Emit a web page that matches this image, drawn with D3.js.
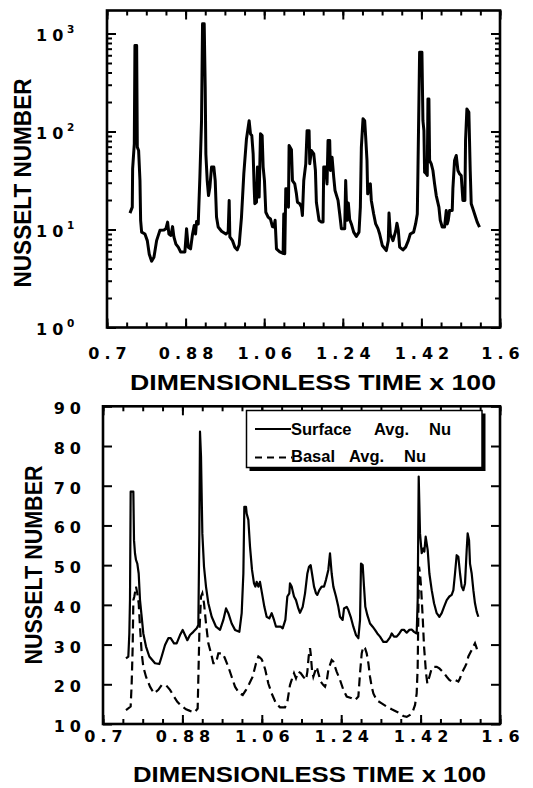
<!DOCTYPE html>
<html><head><meta charset="utf-8">
<script src="https://cdn.jsdelivr.net/npm/d3@7"></script>
<style>body{margin:0;background:#fff} svg{display:block}</style>
</head><body>
<svg id="chart" width="533" height="788"></svg>
<script>
// ---------------- data ----------------
const xTickValues = [0.7, 0.88, 1.06, 1.24, 1.42, 1.6];
const xTickLabels = ["0.7", "0.88", "1.06", "1.24", "1.42", "1.6"];
const logTickValues = [1, 10, 100, 1000];
const logTickExponents = ["0", "1", "2", "3"];
const linTickValues = [10, 20, 30, 40, 50, 60, 70, 80, 90];
const seriesNames = ["Surface", "Avg.", "Nu", "Basal"];
const xTitle = "DIMENSIONLESS TIME x 100";
const yTitle = "NUSSELT NUMBER";

// top panel: Nusselt number (log scale) vs time
const topNusselt = [
[0.7526,14.7],[0.7579,16.9],[0.7587,41.6],[0.7625,74.8],[0.7640,754],[0.7679,754],[0.7694,69.2],[0.7724,64],
[0.7755,31.6],[0.7770,12.4],[0.7793,9.4],[0.7869,9.0],[0.7923,7.7],[0.7968,5.6],[0.8022,4.75],[0.8075,5.2],
[0.8136,7.7],[0.8212,9.8],[0.8304,9.9],[0.8349,10.2],[0.8388,11.9],[0.8418,9.0],[0.8464,8.7],[0.8502,10.7],
[0.8532,8.4],[0.8578,7.1],[0.8632,6.6],[0.8685,5.9],[0.8784,5.9],[0.8822,10.2],[0.8860,6.6],[0.8914,6.35],
[0.8959,9.0],[0.8997,11.0],[0.9028,9.0],[0.9051,12.1],[0.9089,11.4],[0.9127,34.2],[0.9165,129],[0.9188,1256],
[0.9226,1256],[0.9249,283],[0.9264,59],[0.9295,31.6],[0.9325,22.2],[0.9356,27],[0.9394,43.3],[0.9447,43.3],
[0.9478,31.6],[0.9508,13.4],[0.9546,10.6],[0.9623,9.6],[0.9722,9.0],[0.9775,9.4],[0.9798,19.8],[0.9813,8.4],
[0.9874,7.7],[0.9928,6.6],[0.9981,6.2],[1.0027,7.0],[1.0080,13.4],[1.0133,37],[1.0194,84],[1.0255,129],
[1.0286,94.7],[1.0316,91],[1.0347,59],[1.0370,27],[1.0385,18.3],[1.0423,19],[1.0446,43.3],[1.0469,27],
[1.0484,21.4],[1.0515,94.7],[1.0553,91],[1.0576,43.3],[1.0606,31.6],[1.0637,15],[1.0690,13.4],[1.0743,12.8],
[1.0789,10.7],[1.0820,10.6],[1.0850,12.4],[1.0881,6.35],[1.0957,5.9],[1.1033,5.7],[1.1048,14.4],[1.1071,5.65],
[1.1094,26],[1.1132,26],[1.1155,16.9],[1.1170,72],[1.1224,65],[1.1247,31.6],[1.1300,29.2],[1.1338,23.1],
[1.1361,19],[1.1414,18.3],[1.1452,16.9],[1.1475,13.9],[1.1506,31.6],[1.1552,46.8],[1.1582,102],[1.1628,102],
[1.1643,46.8],[1.1681,64],[1.1735,59],[1.1773,40],[1.1795,19],[1.1856,12.4],[1.1910,11.9],[1.1948,11.9],
[1.1963,43.3],[1.2009,43.3],[1.2039,29.2],[1.2062,81],[1.2100,81],[1.2116,40],[1.2154,54.7],[1.2192,34.2],
[1.2222,25],[1.2291,19.8],[1.2329,14.4],[1.2367,10.2],[1.2444,10.2],[1.2466,31.6],[1.2497,12.4],[1.2527,18.6],
[1.2558,12.6],[1.2596,11.4],[1.2649,9.4],[1.2710,8.5],[1.2771,9.4],[1.2802,16.9],[1.2825,69],[1.2863,135],
[1.2901,129],[1.2924,87.5],[1.2954,50.6],[1.2970,23.1],[1.3000,27],[1.3031,29.2],[1.3053,19.8],[1.3107,14.4],
[1.3153,11.4],[1.3206,10.2],[1.3244,9.0],[1.3305,6.87],[1.3397,6.1],[1.3442,7.7],[1.3458,14.7],[1.3488,9.0],
[1.3549,7.7],[1.3610,9.6],[1.3640,11.6],[1.3671,9.8],[1.3702,6.6],[1.3778,6.2],[1.3839,6.6],[1.3900,7.7],
[1.3945,9.0],[1.4022,9.4],[1.4067,11.4],[1.4106,14.4],[1.4121,40],[1.4159,645],[1.4212,645],[1.4235,129],
[1.4258,102],[1.4273,38.5],[1.4311,37],[1.4334,35.6],[1.4350,215],[1.4372,215],[1.4388,50.6],[1.4426,46.8],
[1.4464,40],[1.4502,29.2],[1.4540,22.2],[1.4601,16.9],[1.4632,12.4],[1.4677,10.6],[1.4731,10.6],[1.4769,15.6],
[1.4792,11.4],[1.4815,12.4],[1.4845,15.6],[1.4906,15.6],[1.4921,26],[1.4959,50.6],[1.4998,56.9],[1.5036,40],
[1.5074,37],[1.5112,35.6],[1.5150,19.8],[1.5196,19.8],[1.5211,81],[1.5242,170],[1.5287,157],[1.5318,40],
[1.5341,18.3],[1.5379,16.3],[1.5440,13.4],[1.5478,11.9],[1.5531,10.6]
];

// bottom panel: surface-averaged Nusselt number
const surfaceNu = [
[0.7521,26.5],[0.7574,26.95],[0.7597,32.8],[0.7612,41.2],[0.7627,68.5],[0.7688,68.5],[0.7703,56.3],[0.7725,53.0],
[0.7748,51.3],[0.7778,50.4],[0.7809,47.9],[0.7839,41.2],[0.7877,37.0],[0.7914,32.8],[0.7975,29.5],[0.8050,27.0],
[0.8179,25.3],[0.8277,25.1],[0.8330,27.0],[0.8406,29.9],[0.8481,31.6],[0.8534,31.6],[0.8610,30.3],[0.8670,30.3],
[0.8746,32.4],[0.8806,33.7],[0.8859,32.4],[0.8912,31.1],[0.8972,32.4],[0.9048,33.2],[0.9124,34.1],[0.9161,34.9],
[0.9184,58.0],[0.9199,83.6],[0.9222,77.3],[0.9252,58.0],[0.9290,49.6],[0.9335,44.6],[0.9388,40.4],[0.9464,37.0],
[0.9562,34.5],[0.9653,33.7],[0.9728,36.2],[0.9789,39.1],[0.9841,37.9],[0.9917,35.3],[0.9993,33.7],[1.0091,33.2],
[1.0144,37.9],[1.0182,47.9],[1.0204,64.7],[1.0242,64.7],[1.0257,63.0],[1.0295,61.4],[1.0333,54.6],[1.0378,48.8],
[1.0423,45.4],[1.0454,44.6],[1.0484,45.8],[1.0522,44.6],[1.0559,45.8],[1.0605,42.9],[1.0658,39.5],[1.0710,37.0],
[1.0771,36.6],[1.0824,37.9],[1.0877,36.2],[1.0922,34.5],[1.0975,34.5],[1.1028,34.5],[1.1073,34.1],[1.1134,36.2],
[1.1179,42.1],[1.1224,42.9],[1.1239,45.4],[1.1277,44.6],[1.1330,42.1],[1.1375,41.2],[1.1428,39.1],[1.1466,38.0],
[1.1527,39.5],[1.1580,42.9],[1.1633,47.9],[1.1670,49.6],[1.1708,50.0],[1.1738,47.9],[1.1784,44.6],[1.1829,42.9],
[1.1859,42.5],[1.1904,43.7],[1.1957,44.6],[1.2010,44.6],[1.2055,46.3],[1.2108,48.8],[1.2146,53.0],[1.2184,47.9],
[1.2222,44.6],[1.2282,42.1],[1.2335,39.5],[1.2373,37.0],[1.2433,36.2],[1.2464,39.1],[1.2524,39.5],[1.2562,38.7],
[1.2615,37.0],[1.2675,34.5],[1.2736,32.4],[1.2789,31.6],[1.2827,36.2],[1.2849,50.4],[1.2887,50.0],[1.2917,44.6],
[1.2947,39.5],[1.2993,37.4],[1.3053,35.3],[1.3113,34.5],[1.3166,33.7],[1.3219,32.8],[1.3280,32.0],[1.3355,30.7],
[1.3431,30.7],[1.3507,31.8],[1.3545,32.8],[1.3597,32.0],[1.3658,32.0],[1.3718,32.8],[1.3771,33.7],[1.3824,33.7],
[1.3885,33.0],[1.3945,33.7],[1.3998,33.8],[1.4051,33.2],[1.4111,32.8],[1.4134,41.2],[1.4157,72.3],[1.4187,58.0],
[1.4225,53.0],[1.4262,54.2],[1.4285,53.4],[1.4315,57.2],[1.4338,55.5],[1.4361,53.8],[1.4399,47.9],[1.4452,43.7],
[1.4505,40.4],[1.4565,37.9],[1.4625,37.0],[1.4678,37.9],[1.4731,39.5],[1.4792,41.2],[1.4852,42.1],[1.4905,42.5],
[1.4943,43.7],[1.4980,47.9],[1.5018,52.5],[1.5056,52.1],[1.5094,47.9],[1.5131,44.6],[1.5169,43.7],[1.5207,45.4],
[1.5245,53.8],[1.5267,58.0],[1.5298,56.3],[1.5320,50.4],[1.5358,47.9],[1.5396,43.7],[1.5433,40.4],[1.5471,38.3],
[1.5509,37.0]
];

// bottom panel: basal-averaged Nusselt number
const basalNu = [
[0.7521,13.5],[0.7627,14.4],[0.7650,20.2],[0.7673,29.5],[0.7688,41.2],[0.7710,42.1],[0.7748,44.6],[0.7778,42.9],
[0.7809,40.4],[0.7839,34.5],[0.7877,27.8],[0.7914,24.4],[0.7975,21.9],[0.8066,19.4],[0.8156,17.7],[0.8254,18.6],
[0.8330,19.8],[0.8428,19.8],[0.8519,18.6],[0.8610,16.9],[0.8685,15.6],[0.8783,14.5],[0.8882,13.7],[0.8972,13.3],
[0.9071,12.9],[0.9146,13.9],[0.9184,32.8],[0.9222,42.1],[0.9252,42.9],[0.9290,40.4],[0.9335,35.3],[0.9388,30.3],
[0.9449,27.8],[0.9501,25.3],[0.9562,25.3],[0.9615,27.8],[0.9668,27.8],[0.9713,27.8],[0.9766,26.5],[0.9841,24.4],
[0.9917,21.9],[0.9993,19.4],[1.0091,17.7],[1.0166,17.3],[1.0242,18.6],[1.0318,20.2],[1.0393,21.9],[1.0469,25.3],
[1.0522,27.0],[1.0559,26.7],[1.0597,26.3],[1.0635,25.3],[1.0680,23.6],[1.0748,20.2],[1.0824,17.7],[1.0922,15.2],
[1.1013,14.2],[1.1126,14.2],[1.1179,15.6],[1.1239,19.8],[1.1277,21.1],[1.1330,22.8],[1.1375,21.5],[1.1428,23.2],
[1.1481,22.8],[1.1541,21.9],[1.1602,21.1],[1.1633,23.2],[1.1663,27.0],[1.1693,29.1],[1.1708,27.8],[1.1738,23.6],
[1.1768,21.9],[1.1806,23.2],[1.1844,24.4],[1.1882,22.8],[1.1935,20.7],[1.1995,19.8],[1.2033,19.4],[1.2070,20.7],
[1.2108,23.6],[1.2146,24.9],[1.2184,26.1],[1.2222,25.7],[1.2259,24.4],[1.2297,23.2],[1.2373,21.1],[1.2449,18.6],
[1.2524,16.9],[1.2638,16.5],[1.2713,16.0],[1.2789,16.9],[1.2827,22.8],[1.2865,27.8],[1.2902,29.5],[1.2940,29.1],
[1.2978,27.8],[1.3016,25.3],[1.3053,21.9],[1.3091,19.4],[1.3129,17.7],[1.3204,16.0],[1.3318,15.2],[1.3431,14.4],
[1.3545,13.7],[1.3658,13.1],[1.3734,12.7],[1.3809,12.0],[1.3885,11.8],[1.3960,12.3],[1.4021,13.1],[1.4074,14.8],
[1.4111,17.7],[1.4134,24.4],[1.4149,37.9],[1.4164,49.6],[1.4187,47.9],[1.4210,44.6],[1.4247,37.0],[1.4278,29.5],
[1.4323,22.8],[1.4353,20.2],[1.4399,21.9],[1.4452,24.0],[1.4505,24.4],[1.4565,24.4],[1.4625,24.0],[1.4678,23.4],
[1.4731,22.8],[1.4792,21.9],[1.4852,21.1],[1.4905,20.7],[1.4980,21.1],[1.5056,20.7],[1.5094,21.5],[1.5131,22.8],
[1.5169,23.6],[1.5207,24.4],[1.5245,25.3],[1.5283,27.0],[1.5320,27.8],[1.5358,28.6],[1.5396,29.5],[1.5433,30.3],
[1.5471,29.1],[1.5494,27.8]
];

// ---------------- drawing ----------------
const svg = d3.select("#chart");
const TICKFONT = "'DejaVu Sans', sans-serif";
const TITLEFONT = "'Liberation Sans', Arial, sans-serif";
const LS = 5; // letter spacing of tick labels
const minorXValues = d3.range(0, 21).map(i => +(0.7 + 0.045 * i).toFixed(3));

function styleAxis(g, w) {
  g.select(".domain").remove();
  g.selectAll(".tick line").attr("stroke", "#000").attr("stroke-width", w);
}

function drawPanel(cfg) {
  const g = svg.append("g");
  const { x, y, left, right, top, bottom } = cfg;
  [[d3.axisBottom, bottom], [d3.axisTop, top]].forEach(([ax, pos]) => {
    g.append("g").attr("transform", `translate(0,${pos})`)
      .call(ax(x).tickValues(minorXValues).tickSize(-5).tickFormat(""))
      .call(s => styleAxis(s, 2));
    g.append("g").attr("transform", `translate(0,${pos})`)
      .call(ax(x).tickValues(xTickValues).tickSize(-9).tickFormat(""))
      .call(s => styleAxis(s, 2));
  });
  const lab = g.append("g").attr("transform", `translate(0,${bottom})`)
    .call(d3.axisBottom(x).tickValues(xTickValues).tickSize(0).tickPadding(cfg.xLabelPad)
      .tickFormat((d, i) => xTickLabels[i]));
  lab.select(".domain").remove();
  lab.selectAll("text").attr("font-family", TICKFONT).attr("font-weight", "bold")
    .attr("font-size", 16).attr("letter-spacing", LS).attr("dx", LS / 2).attr("fill", "#000");

  [[d3.axisLeft, left], [d3.axisRight, right]].forEach(([ax, pos]) => {
    if (cfg.yMinor) {
      g.append("g").attr("transform", `translate(${pos},0)`)
        .call(ax(y).tickValues(cfg.yMinor).tickSize(-5).tickFormat(""))
        .call(s => styleAxis(s, 2));
    }
    g.append("g").attr("transform", `translate(${pos},0)`)
      .call(ax(y).tickValues(cfg.yMajor).tickSize(-9).tickFormat(""))
      .call(s => styleAxis(s, 2));
  });

  g.append("rect").attr("x", left).attr("y", top)
    .attr("width", right - left).attr("height", bottom - top)
    .attr("fill", "none").attr("stroke", "#000").attr("stroke-width", 2.6);

  g.append("text").attr("x", cfg.titleX).attr("y", cfg.titleY)
    .attr("font-family", TITLEFONT).attr("font-weight", "bold").attr("font-size", 22)
    .attr("textLength", cfg.titleLen).attr("lengthAdjust", "spacingAndGlyphs")
    .text(xTitle);
  g.append("text")
    .attr("transform", `translate(${cfg.yTitleX},${cfg.yTitleY}) rotate(-90)`)
    .attr("text-anchor", "middle")
    .attr("font-family", TITLEFONT).attr("font-weight", "bold").attr("font-size", 24)
    .attr("textLength", cfg.yTitleLen).attr("lengthAdjust", "spacingAndGlyphs")
    .text(yTitle);
  return g;
}

// ----- top panel -----
const xTop = d3.scaleLinear().domain([0.7, 1.6]).range([107, 500]);
const yTop = d3.scaleLog().domain([1, 1000]).range([327.5, 33.5]);
const logMinor = [];
[1, 10, 100].forEach(dec => { for (let k = 2; k <= 9; k++) logMinor.push(dec * k); });

const gTop = drawPanel({
  x: xTop, y: yTop, left: 107, right: 500, top: 10.5, bottom: 327.5,
  yMajor: logTickValues, yMinor: logMinor, xLabelPad: 20,
  titleX: 130, titleY: 390, titleLen: 366,
  yTitleX: 31, yTitleY: 183, yTitleLen: 209
});
logTickValues.forEach((v, i) => {
  const t = gTop.append("text").attr("font-family", TICKFONT).attr("font-weight", "bold")
    .attr("fill", "#000");
  t.append("tspan").attr("x", 36).attr("y", yTop(v) + 7).attr("font-size", 16)
    .attr("letter-spacing", LS).text("10");
  t.append("tspan").attr("x", 67).attr("y", yTop(v) - 1).attr("font-size", 10.5)
    .text(logTickExponents[i]);
});
gTop.append("path").datum(topNusselt)
  .attr("fill", "none").attr("stroke", "#000").attr("stroke-width", 3)
  .attr("stroke-linejoin", "round")
  .attr("d", d3.line().x(d => xTop(d[0])).y(d => yTop(d[1])));

// ----- bottom panel -----
const xBot = d3.scaleLinear().domain([0.7, 1.6]).range([103, 500]);
const yBot = d3.scaleLinear().domain([10, 90]).range([724, 406.3]);
const gBot = drawPanel({
  x: xBot, y: yBot, left: 103, right: 500, top: 406.3, bottom: 724,
  yMajor: linTickValues, yMinor: null, xLabelPad: 7,
  titleX: 133, titleY: 782, titleLen: 353,
  yTitleX: 42, yTitleY: 565, yTitleLen: 199
});
gBot.append("g").selectAll("text").data(linTickValues).join("text")
  .attr("x", 81 + LS).attr("y", d => yBot(d) + 8).attr("text-anchor", "end")
  .attr("font-family", TICKFONT).attr("font-weight", "bold").attr("font-size", 16)
  .attr("letter-spacing", LS).text(d => String(d));

const lineBot = d3.line().x(d => xBot(d[0])).y(d => yBot(d[1]));
gBot.append("path").datum(basalNu)
  .attr("fill", "none").attr("stroke", "#000").attr("stroke-width", 2.2)
  .attr("stroke-dasharray", "9,5").attr("d", lineBot);
gBot.append("path").datum(surfaceNu)
  .attr("fill", "none").attr("stroke", "#000").attr("stroke-width", 2.2)
  .attr("stroke-linejoin", "round").attr("d", lineBot);

// legend
const lg = gBot.append("g");
lg.append("rect").attr("x", 249.5).attr("y", 413.5).attr("width", 236).attr("height", 57.5).attr("fill", "#000");
lg.append("rect").attr("x", 246.5).attr("y", 410.5).attr("width", 235.5).attr("height", 57)
  .attr("fill", "#fff").attr("stroke", "#000").attr("stroke-width", 1.5);
lg.append("line").attr("x1", 255).attr("x2", 291).attr("y1", 429).attr("y2", 429)
  .attr("stroke", "#000").attr("stroke-width", 2);
lg.append("line").attr("x1", 255).attr("x2", 292).attr("y1", 457.5).attr("y2", 457.5)
  .attr("stroke", "#000").attr("stroke-width", 2).attr("stroke-dasharray", "7,5");
const legendRows = [
  { y: 435, words: [[seriesNames[0], 291], [seriesNames[1], 374], [seriesNames[2], 429]] },
  { y: 462, words: [[seriesNames[3], 291], [seriesNames[1], 349], [seriesNames[2], 404]] }
];
legendRows.forEach(r => {
  r.words.forEach(([w, xx]) => {
    lg.append("text").attr("x", xx).attr("y", r.y)
      .attr("font-family", TITLEFONT).attr("font-weight", "bold").attr("font-size", 16.5)
      .text(w);
  });
});
</script>
</body></html>
